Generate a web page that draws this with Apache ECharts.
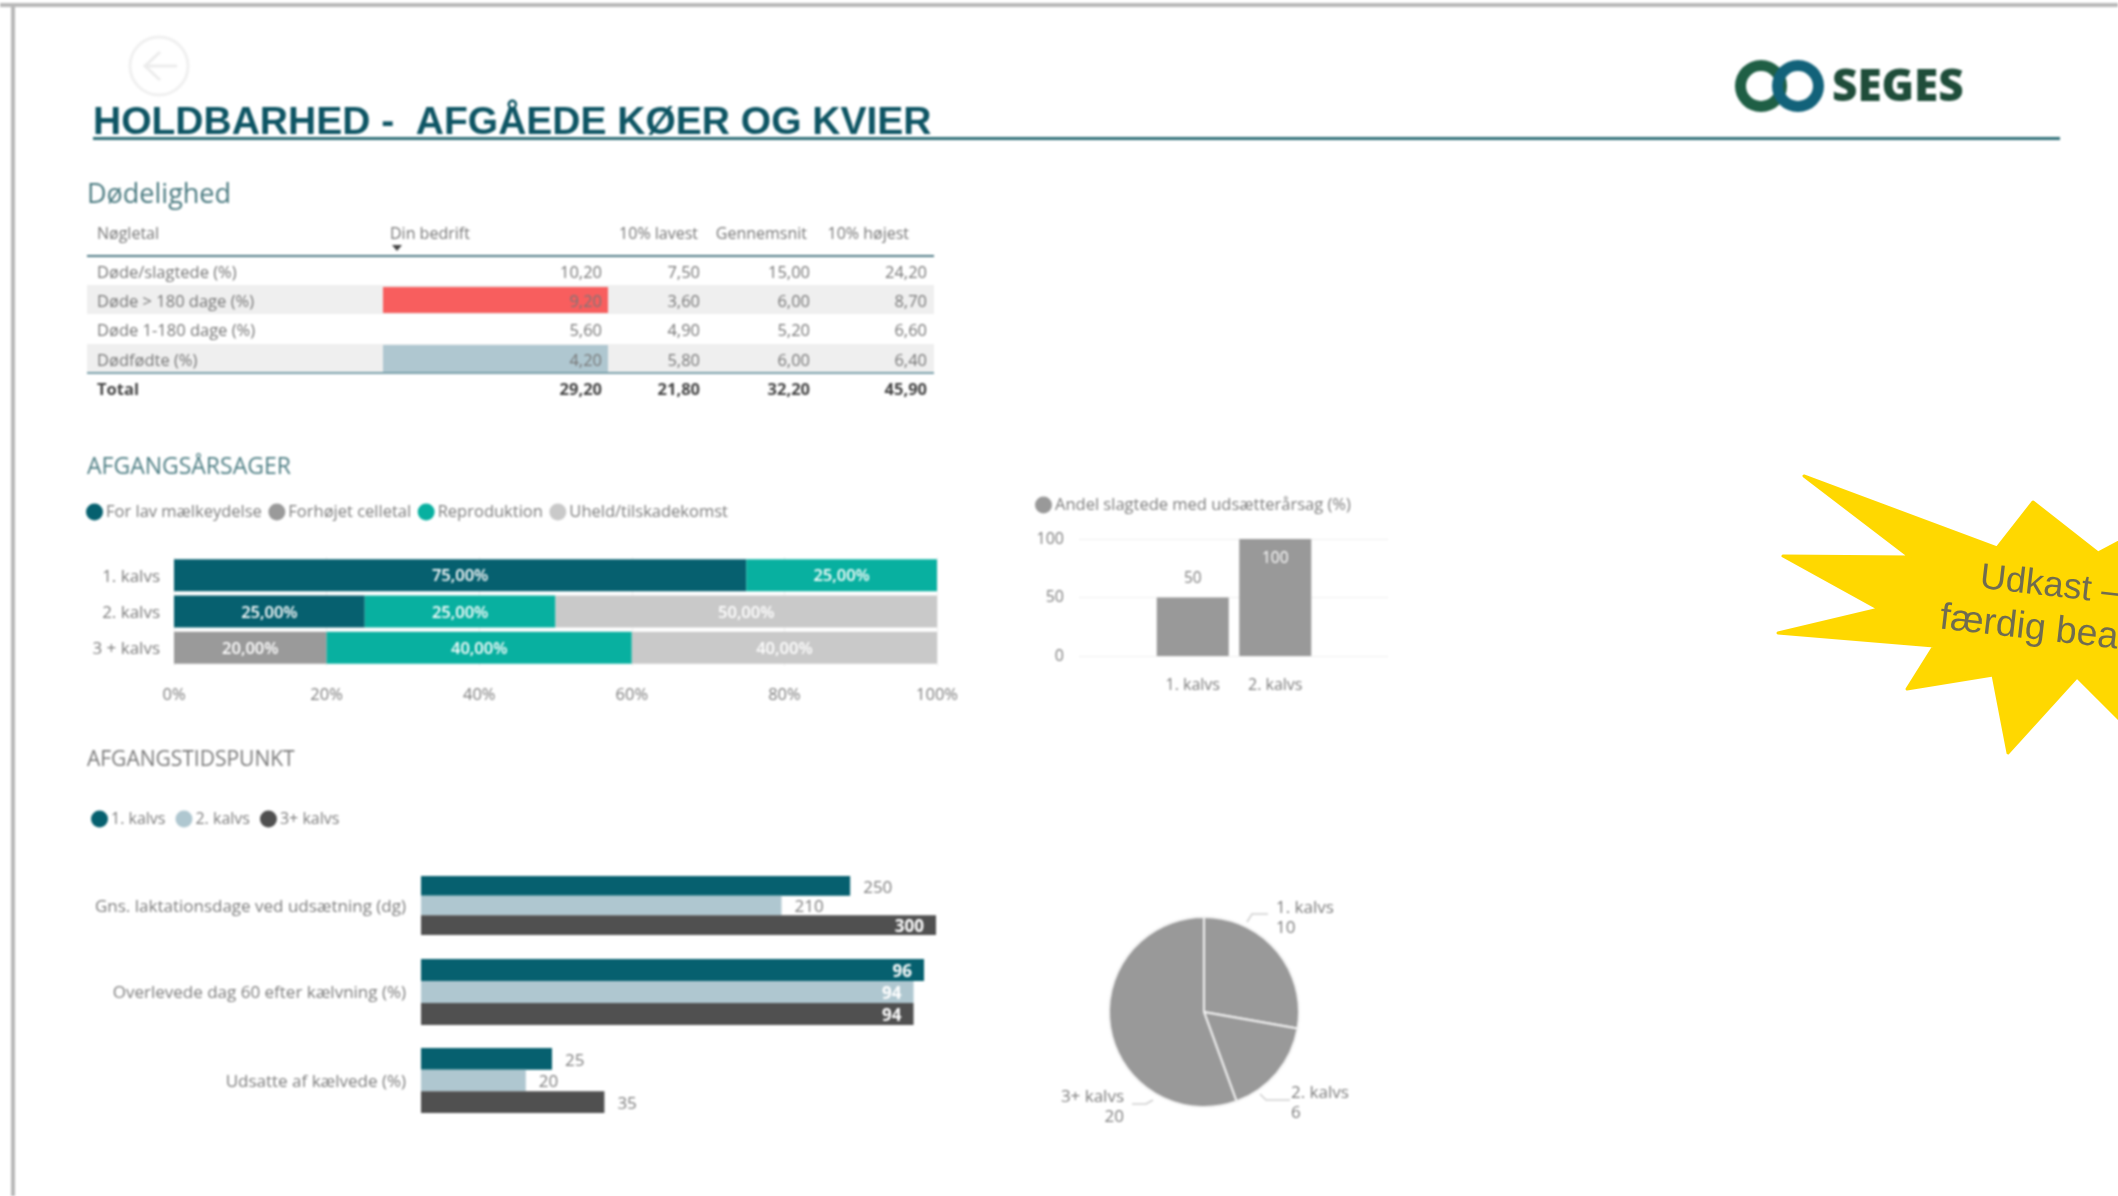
<!DOCTYPE html>
<html><head><meta charset="utf-8">
<style>html,body{margin:0;padding:0;background:#fff}
#chart,#stamp{position:absolute;left:0;top:0;width:2118px;height:1196px}
#chart{filter:blur(0.8px)}
#stamp{pointer-events:none}</style>
<script src="https://cdn.jsdelivr.net/npm/echarts@6/dist/echarts.min.js"></script>
</head><body><div id="chart"></div><div id="stamp"></div>
<script>
// ---- data ----
const tableHeaders = ['Nøgletal','Din bedrift','10% lavest','Gennemsnit','10% højest'];
const tableRows = ['Døde/slagtede (%)','Døde > 180 dage (%)','Døde 1-180 dage (%)','Dødfødte (%)','Total'];
const dinBedrift = [10.2,9.2,5.6,4.2,29.2];
const lavest = [7.5,3.6,4.9,5.8,21.8];
const gennemsnit = [15,6,5.2,6,32.2];
const hojest = [24.2,8.7,6.6,6.4,45.9];

const causeCategories = ['1. kalvs','2. kalvs','3 + kalvs'];
const causeNames = ['For lav mælkeydelse','Forhøjet celletal','Reproduktion','Uheld/tilskadekomst'];
const lavMaelk = [75,25,null];
const celletal = [null,null,20];
const reproduktion = [25,25,40];
const uheld = [null,50,40];

const slagtetName = 'Andel slagtede med udsætterårsag (%)';
const slagtetCategories = ['1. kalvs','2. kalvs'];
const slagtetValues = [50,100];

const kalvNames = ['1. kalvs','2. kalvs','3+ kalvs'];
const metricNames = ['Gns. laktationsdage ved udsætning (dg)','Overlevede dag 60 efter kælvning (%)','Udsatte af kælvede (%)'];
const metricKalv1 = [250,96,25];
const metricKalv2 = [210,94,20];
const metricKalv3 = [300,94,35];
const metricAxisMax = [300,100,100];

const pieNames = ['1. kalvs','2. kalvs','3+ kalvs'];
const pieValues = [10,6,20];

// ---- style ----
const FONT = '"Open Sans"';
const GREY = '#7d7d7d';
const causeColors = ['#06606f','#9a9a9a','#08b0a0','#c9c9c9'];
const kalvColors = ['#06606f','#afc7d0','#505050'];
const dk = v => v.toFixed(2).replace('.',',');

const axisText = {color:GREY,fontFamily:FONT,fontSize:16};
const catText = {color:GREY,fontFamily:FONT,fontSize:17,verticalAlign:'top',lineHeight:3};
const legendBase = {icon:'circle',itemWidth:17,itemHeight:17,itemGap:6.5,selectedMode:false,orient:'horizontal',
  textStyle:{color:GREY,fontFamily:FONT,fontSize:16.5,padding:[0,0,0,-2]}};
const noAxis = {show:false};

const grids = [
  {left:174,top:557,width:763,height:109},
  {left:1079,top:539,width:309,height:117},
  {left:1151.5,top:539,width:165,height:117},
  {left:421,top:876,width:515,height:59},
  {left:421,top:959,width:524,height:66},
  {left:421,top:1048,width:524,height:65}
];
const xAxes = [
  {gridIndex:0,type:'value',min:0,max:100,interval:20,axisLabel:{...axisText,fontSize:16.5,formatter:'{value}%',margin:21},
   axisLine:{show:false},axisTick:{show:false},splitLine:{lineStyle:{color:'#f1f1f1'}}},
  {gridIndex:1,type:'value',min:0,max:1,show:false},
  {gridIndex:2,type:'category',data:slagtetCategories,axisLabel:{...axisText,margin:21},axisLine:{show:false},axisTick:{show:false}},
  {gridIndex:3,type:'value',min:0,max:metricAxisMax[0],...noAxis},
  {gridIndex:4,type:'value',min:0,max:metricAxisMax[1],...noAxis},
  {gridIndex:5,type:'value',min:0,max:metricAxisMax[2],...noAxis}
];
const yAxes = [
  {gridIndex:0,type:'category',inverse:true,data:causeCategories,axisLabel:{...catText,margin:14},axisLine:{show:false},axisTick:{show:false}},
  {gridIndex:1,type:'value',min:0,max:100,interval:50,axisLabel:{...axisText,margin:15},axisLine:{show:false},axisTick:{show:false},splitLine:{lineStyle:{color:'#efefef'}}},
  {gridIndex:2,type:'value',min:0,max:100,show:false},
  ...metricNames.map((n,i)=>({gridIndex:3+i,type:'category',inverse:true,data:[n],axisLabel:{...catText,margin:15},axisLine:{show:false},axisTick:{show:false}}))
];

const causeData = [lavMaelk,celletal,reproduktion,uheld];
const series = causeNames.map((name,i)=>({
  name,type:'bar',stack:'cause',xAxisIndex:0,yAxisIndex:0,barWidth:32,data:causeData[i],
  itemStyle:{color:causeColors[i]},
  label:{show:true,position:'inside',color:'#fff',fontFamily:FONT,fontSize:16.5,fontWeight:600,offset:[0,1.5],
    formatter:p=>p.value==null?'':dk(p.value)+'%'}
}));
series.push({name:slagtetName,type:'bar',xAxisIndex:2,yAxisIndex:2,barWidth:72,
  data:slagtetValues.map(v=>v>=100
    ? {value:v,label:{position:'insideTop',distance:12,color:'#ffffff'}}
    : {value:v}),
  itemStyle:{color:'#999999'},
  label:{show:true,fontFamily:FONT,fontSize:15.5,position:'top',distance:11,color:GREY}});

const metricSeries = [metricKalv1,metricKalv2,metricKalv3];
metricNames.forEach((m,i)=>{
  kalvNames.forEach((k,j)=>{
    const v = metricSeries[j][i];
    const inside = v/metricAxisMax[i] > 0.9;
    series.push({name:k,type:'bar',xAxisIndex:3+i,yAxisIndex:3+i,barGap:0,barCategoryGap:0,data:[v],
      itemStyle:{color:kalvColors[j]},
      label:{show:true,position:inside?'insideRight':'right',distance:inside?12:13,offset:[0,2],
        color:inside?'#ffffff':GREY,fontFamily:FONT,fontSize:17,fontWeight:inside?700:400}});
  });
});

const pieLabelSpots = [{x:1276,y:918,align:'left'},{x:1291,y:1103,align:'left'},{x:1124,y:1107,align:'right'}];
series.push({type:'pie',center:[1204,1012],radius:[0,95],startAngle:90,clockwise:true,silent:true,
  data:pieNames.map((n,i)=>({name:n,value:pieValues[i]})),
  itemStyle:{color:'#999999',borderColor:'#f2f2f2',borderWidth:2},
  label:{show:true,position:'outside',formatter:'{b}\n{c}',color:GREY,fontFamily:FONT,fontSize:17,lineHeight:20},
  labelLine:{show:false},
  labelLayout:p=>({...pieLabelSpots[p.dataIndex],verticalAlign:'middle'})
});

// ---- page furniture, table ----
const g = [];
const txt = (target,text,x,y,font,fill,align,va,extra) => target.push({type:'text',x,y,silent:true,...(extra||{}),
  style:{text,font,fill,textAlign:align||'left',textVerticalAlign:va||'middle'}});
const T = (...a) => txt(g,...a);
const rect = (x,y,w,h,fill) => g.push({type:'rect',silent:true,shape:{x,y,width:w,height:h},style:{fill}});
const line = (x1,y1,x2,y2,stroke,w) => g.push({type:'line',silent:true,shape:{x1,y1,x2,y2},style:{stroke,lineWidth:w}});
const poly = (points,stroke,w) => g.push({type:'polyline',silent:true,shape:{points},style:{stroke,lineWidth:w,fill:null}});

rect(0,3,2118,4,'#b8b8b8');
rect(11,3,4,1193,'#b8b8b8');

g.push({type:'circle',silent:true,shape:{cx:159,cy:66,r:29},style:{fill:null,stroke:'#f0f0f0',lineWidth:3}});
poly([[177,66],[145,66]],'#ececec',3);
poly([[160,52],[145,66],[160,80]],'#ececec',3);

T('HOLDBARHED -  AFGÅEDE KØER OG KVIER',93,123.5,'bold 39px "Liberation Sans"','#0e5564');
line(93,138.5,2060,138.5,'#2f6f78',3);

g.push({type:'ring',silent:true,shape:{cx:1761,cy:86,r:26,r0:15},style:{fill:'#1f5f45'}});
g.push({type:'ring',silent:true,shape:{cx:1798,cy:86,r:26,r0:15},style:{fill:'#12627a'}});
T('SEGES',1832,88,'800 44px "Open Sans"','#1f4d3a');

T('Dødelighed',87,195.5,'27px '+FONT,'#4a7a80');
T('AFGANGSÅRSAGER',87,467.5,'23px '+FONT,'#4f7f85');
T('AFGANGSTIDSPUNKT',87,760,'21px '+FONT,'#7a7a7a');

// table
rect(87,285,847,29,'#efefef');
rect(87,344,847,29,'#efefef');
rect(383,287,225,26,'#f85e5e');
rect(383,345,225,28,'#afc7d0');
line(87,256,934,256,'#4e7a85',2);
line(87,373,934,373,'#7aa0aa',2);
const rowY = [273.5,302.5,331.5,361.5,390.5];
const colRight = [602,700,810,927];
const colData = [dinBedrift,lavest,gennemsnit,hojest];
const hf = '16px '+FONT, tf = '16.5px '+FONT, tc = '#777777';
T(tableHeaders[0],97,234,hf,tc);
T(tableHeaders[1],390,234,hf,tc);
T(tableHeaders[2],698,234,hf,tc,'right');
T(tableHeaders[3],807,234,hf,tc,'right');
T(tableHeaders[4],909,234,hf,tc,'right');
g.push({type:'polygon',silent:true,shape:{points:[[392,245],[402,245],[397,251]]},style:{fill:'#444'}});
tableRows.forEach((r,i)=>{
  const last = i===tableRows.length-1;
  const f = last?'bold 16.5px '+FONT:tf, c = last?'#444444':tc;
  T(r,97,rowY[i],f,c);
  colData.forEach((col,k)=>T(dk(col[i]),colRight[k],rowY[i],f,c,'right'));
});

// pie leader lines
poly([[1247,922],[1252,914],[1268,914]],'#cfcfcf',1.5);
poly([[1260,1094],[1266,1100],[1290,1100]],'#cfcfcf',1.5);
poly([[1153,1100],[1146,1104],[1132,1104]],'#cfcfcf',1.5);

const chart = echarts.init(document.getElementById('chart'),null,{renderer:'canvas'});
chart.setOption({
  animation:false,backgroundColor:'#ffffff',
  legend:[
    {...legendBase,left:81,top:498.5,data:causeNames},
    {...legendBase,left:1030,top:491.5,data:[slagtetName]},
    {...legendBase,left:86,top:805.5,itemGap:10,textStyle:{...legendBase.textStyle,fontSize:16},data:kalvNames}
  ],
  grid:grids,xAxis:xAxes,yAxis:yAxes,series,
  graphic:{elements:g}
});

// ---- draft stamp (sharp overlay, as in the reference) ----
const s = [];
s.push({type:'polygon',silent:true,shape:{points:[[1804,476],[1997,548],[2033,502],[2098,553],[2160,520],[2160,760],[2077,677],[2008,753],[1993,675],[1907,689],[1934,646],[1778,633],[1879,609],[1783,556],[1910,557]]},
  style:{fill:'#ffd800',stroke:'#ffd800',lineWidth:3,lineJoin:'round'}});
const rot = -6.5*Math.PI/180;
txt(s,'Udkast –',1980,578,'36px "Liberation Sans"','#706c50','left','middle',{rotation:rot});
txt(s,'færdig bea',1940,618,'37.5px "Liberation Sans"','#706c50','left','middle',{rotation:rot});
echarts.init(document.getElementById('stamp'),null,{renderer:'canvas'}).setOption({animation:false,graphic:{elements:s}});
</script></body></html>
